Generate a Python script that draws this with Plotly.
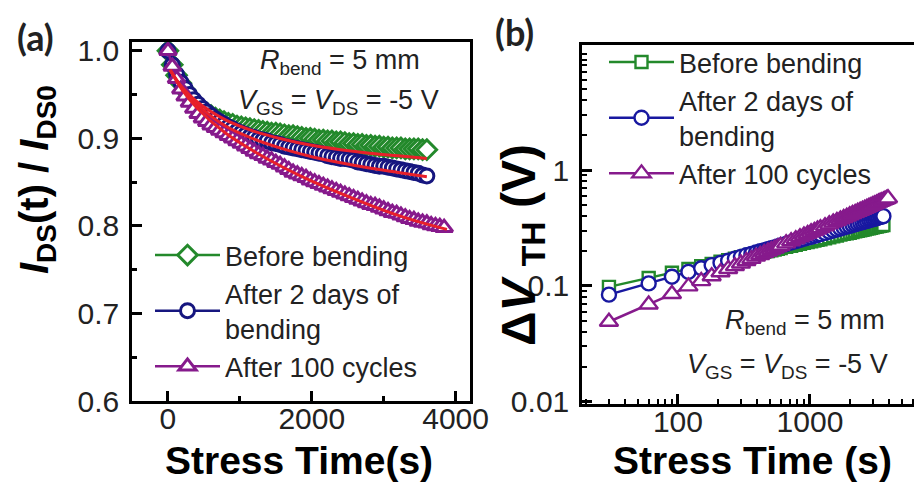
import plotly.graph_objects as go

# ---------------- data: panel (a) ----------------
T_A = [0, 60, 120, 180, 240, 300, 360, 420, 480, 540,
       600, 660, 720, 780, 840, 900, 960, 1020, 1080, 1140,
       1200, 1260, 1320, 1380, 1440, 1500, 1560, 1620, 1680, 1740,
       1800, 1860, 1920, 1980, 2040, 2100, 2160, 2220, 2280, 2340,
       2400, 2460, 2520, 2580, 2640, 2700, 2760, 2820, 2880, 2940,
       3000, 3060, 3120, 3180, 3240, 3300, 3360, 3420, 3480, 3540,
       3600]
T_A_P = T_A + [3660, 3720, 3780, 3840]

A_BEFORE = [1.000, 0.984, 0.972, 0.963, 0.955, 0.948, 0.942, 0.937, 0.932, 0.929,
            0.926, 0.923, 0.921, 0.919, 0.917, 0.916, 0.914, 0.913, 0.912, 0.911,
            0.910, 0.909, 0.908, 0.907, 0.906, 0.906, 0.905, 0.904, 0.903, 0.903,
            0.902, 0.901, 0.900, 0.900, 0.899, 0.898, 0.898, 0.897, 0.897, 0.896,
            0.896, 0.895, 0.894, 0.894, 0.893, 0.893, 0.892, 0.892, 0.891, 0.891,
            0.890, 0.890, 0.889, 0.889, 0.889, 0.888, 0.888, 0.888, 0.888, 0.887,
            0.887]
A_2DAYS = [1.000, 0.984, 0.973, 0.964, 0.957, 0.950, 0.944, 0.939, 0.934, 0.930,
           0.926, 0.922, 0.919, 0.916, 0.913, 0.911, 0.908, 0.906, 0.904, 0.902,
           0.901, 0.899, 0.898, 0.897, 0.895, 0.894, 0.893, 0.891, 0.890, 0.889,
           0.888, 0.887, 0.886, 0.885, 0.884, 0.883, 0.882, 0.880, 0.879, 0.878,
           0.877, 0.877, 0.876, 0.875, 0.873, 0.872, 0.871, 0.870, 0.869, 0.868,
           0.868, 0.867, 0.866, 0.865, 0.864, 0.863, 0.862, 0.861, 0.860, 0.858,
           0.857]
A_100CYC = [1.000, 0.982, 0.968, 0.956, 0.948, 0.941, 0.934, 0.928, 0.923, 0.919,
            0.915, 0.912, 0.909, 0.906, 0.903, 0.900, 0.897, 0.894, 0.891, 0.888,
            0.885, 0.882, 0.880, 0.877, 0.875, 0.872, 0.870, 0.867, 0.864, 0.861,
            0.859, 0.857, 0.855, 0.852, 0.850, 0.848, 0.846, 0.844, 0.842, 0.840,
            0.838, 0.836, 0.834, 0.832, 0.830, 0.828, 0.826, 0.824, 0.823, 0.821,
            0.819, 0.817, 0.815, 0.814, 0.812, 0.810, 0.808, 0.807, 0.805, 0.804,
            0.803, 0.801, 0.800, 0.799, 0.798]

T_FIT = [30, 200, 400, 800, 1200, 1600, 2000, 2400, 2800, 3200, 3600]
T_FIT_P = T_FIT + [3880]
FIT_BEFORE = [0.978, 0.958, 0.942, 0.921, 0.908, 0.899, 0.892, 0.887, 0.883, 0.880, 0.877]
FIT_2DAYS = [0.978, 0.957, 0.939, 0.914, 0.899, 0.888, 0.879, 0.872, 0.866, 0.861, 0.856]
FIT_100CYC = [0.978, 0.955, 0.935, 0.906, 0.885, 0.867, 0.851, 0.837, 0.824, 0.812, 0.802, 0.796]

# ---------------- data: panel (b) ----------------
T_B = [30, 60, 90, 120, 150, 180, 210, 240, 270, 300,
       330, 360, 390, 420, 450, 480, 510, 540, 570, 600,
       660, 720, 780, 840, 900, 960, 1020, 1080, 1140, 1200,
       1300, 1400, 1500, 1600, 1700, 1800, 1900, 2000, 2100, 2200,
       2300, 2400, 2500, 2600, 2700, 2800, 2900, 3000, 3100, 3200,
       3300, 3400, 3500, 3600]
T_B_P = T_B + [3700, 3800, 3900]

B_BEFORE = [0.098, 0.117, 0.130, 0.140, 0.148, 0.155, 0.162, 0.167, 0.172, 0.177,
            0.181, 0.186, 0.189, 0.193, 0.197, 0.200, 0.203, 0.206, 0.209, 0.212,
            0.217, 0.222, 0.226, 0.231, 0.235, 0.239, 0.243, 0.246, 0.250, 0.253,
            0.258, 0.263, 0.268, 0.272, 0.277, 0.281, 0.285, 0.288, 0.292, 0.296,
            0.299, 0.302, 0.305, 0.308, 0.312, 0.314, 0.317, 0.320, 0.323, 0.325,
            0.328, 0.330, 0.333, 0.335]
B_2DAYS = [0.084, 0.105, 0.120, 0.132, 0.142, 0.151, 0.158, 0.165, 0.172, 0.178,
           0.184, 0.189, 0.194, 0.199, 0.203, 0.207, 0.212, 0.215, 0.219, 0.223,
           0.230, 0.237, 0.243, 0.249, 0.255, 0.260, 0.265, 0.270, 0.275, 0.280,
           0.287, 0.294, 0.301, 0.307, 0.313, 0.319, 0.325, 0.330, 0.336, 0.341,
           0.346, 0.351, 0.355, 0.360, 0.364, 0.369, 0.373, 0.377, 0.381, 0.385,
           0.389, 0.393, 0.396, 0.400]
B_100CYC = [0.049, 0.069, 0.085, 0.099, 0.110, 0.121, 0.131, 0.140, 0.148, 0.156,
            0.164, 0.171, 0.179, 0.185, 0.192, 0.198, 0.204, 0.210, 0.216, 0.222,
            0.233, 0.243, 0.253, 0.263, 0.272, 0.281, 0.290, 0.298, 0.307, 0.315,
            0.327, 0.340, 0.352, 0.363, 0.375, 0.386, 0.396, 0.407, 0.417, 0.427,
            0.436, 0.446, 0.455, 0.464, 0.473, 0.482, 0.491, 0.499, 0.507, 0.516,
            0.524, 0.532, 0.539, 0.547, 0.555, 0.562, 0.570]

SERIES_NAMES = ["Before bending", "After 2 days of<br>bending", "After 100 cycles"]

A_XTICKS = [0, 2000, 4000]
A_XTICKTEXT = ["0", "2000", "4000"]
A_YTICKS = [0.6, 0.7, 0.8, 0.9, 1.0]
A_YTICKTEXT = ["0.6", "0.7", "0.8", "0.9", "1.0"]
B_XTICKS = [100, 1000]
B_XTICKTEXT = ["100", "1000"]
B_YTICKS = [0.01, 0.1, 1]
B_YTICKTEXT = ["0.01", "0.1", "1"]

GREEN = "#23892B"
NAVY = "#16167F"
BLUE_B = "#1818A0"
PURPLE = "#861A8C"
RED = "#E8202A"
W, H = 914, 485
FONT = "Liberation Sans, Arial, sans-serif"


def fx(p):
    return p / W


def fy(p):
    return 1 - p / H


fig = go.Figure()

# panel (a) scatter bands
a_specs = [(A_BEFORE, T_A, GREEN, "diamond", 15, SERIES_NAMES[0]),
           (A_2DAYS, T_A, NAVY, "circle", 14, SERIES_NAMES[1]),
           (A_100CYC, T_A_P, PURPLE, "triangle-up", 15, SERIES_NAMES[2])]
for vals, ts, col, sym, size, name in a_specs:
    fig.add_trace(go.Scatter(
        x=ts, y=vals, mode="lines+markers", name=name,
        line=dict(color=col, width=2.5),
        marker=dict(symbol=sym, size=size, color="white",
                    line=dict(color=col, width=3)),
        xaxis="x", yaxis="y", legend="legend"))

for ts, vals in [(T_FIT, FIT_BEFORE), (T_FIT, FIT_2DAYS), (T_FIT_P, FIT_100CYC)]:
    fig.add_trace(go.Scatter(
        x=ts, y=vals, mode="lines", line=dict(color=RED, width=3, shape="spline"),
        showlegend=False, hoverinfo="skip", xaxis="x", yaxis="y"))

# panel (b)
b_specs = [(B_BEFORE, T_B, GREEN, "square", 12, SERIES_NAMES[0]),
           (B_2DAYS, T_B, BLUE_B, "circle", 14, SERIES_NAMES[1]),
           (B_100CYC, T_B_P, PURPLE, "triangle-up", 16, SERIES_NAMES[2])]
for vals, ts, col, sym, size, name in b_specs:
    fig.add_trace(go.Scatter(
        x=ts, y=vals, mode="lines+markers", name=name,
        line=dict(color=col, width=2.5),
        marker=dict(symbol=sym, size=size, color="white",
                    line=dict(color=col, width=2.4)),
        xaxis="x2", yaxis="y2", legend="legend2"))

axis_common = dict(showline=True, linecolor="black", linewidth=2.5,
                   ticks="inside", tickcolor="black", tickwidth=2.5, ticklen=10,
                   showgrid=False, zeroline=False, automargin=False,
                   tickfont=dict(family=FONT, size=30, color="#222"))

log_minor_x = [m * d for d in (10, 100, 1000) for m in range(2, 10)]
log_minor_y = [m * d for d in (0.01, 0.1, 1) for m in range(2, 10)] + [10]

leg_font = dict(family=FONT, size=27, color="#222")
fig.update_layout(
    template="none",
    width=W, height=H, margin=dict(l=0, r=0, t=0, b=0, autoexpand=False),
    paper_bgcolor="white", plot_bgcolor="white",
    xaxis=dict(domain=[fx(132), fx(470)], range=[-500, 4200], anchor="y",
               tickmode="array", tickvals=A_XTICKS, ticktext=A_XTICKTEXT,
               mirror=True, ticklabelstandoff=-11,
               minor=dict(tickmode="array", tickvals=[1000, 3000], ticks="inside",
                          ticklen=5, tickwidth=2.5, tickcolor="black"),
               **axis_common),
    yaxis=dict(domain=[fy(401), fy(42)], range=[0.6, 1.01], anchor="x",
               tickmode="array", tickvals=A_YTICKS, ticktext=A_YTICKTEXT,
               mirror=True, ticklabelstandoff=4,
               minor=dict(tickmode="array", tickvals=[0.65, 0.75, 0.85, 0.95],
                          ticks="inside", ticklen=5, tickwidth=2.5, tickcolor="black"),
               **axis_common),
    xaxis2=dict(domain=[fx(582), 1.0], type="log", range=[1.273, 3.788], anchor="y2",
                tickmode="array", tickvals=B_XTICKS, ticktext=B_XTICKTEXT,
                mirror=True, ticklabelstandoff=-11,
                minor=dict(tickmode="array", tickvals=log_minor_x, ticks="inside",
                           ticklen=5, tickwidth=2, tickcolor="black"),
                **axis_common),
    yaxis2=dict(domain=[fy(404), fy(45)], type="log", range=[-2.02, 1.08], anchor="x2",
                tickmode="array", tickvals=B_YTICKS, ticktext=B_YTICKTEXT,
                ticklabelstandoff=4,
                minor=dict(tickmode="array", tickvals=log_minor_y, ticks="inside",
                           ticklen=5, tickwidth=2, tickcolor="black"),
                **axis_common),
    legend=dict(x=fx(150), y=fy(231), xanchor="left", yanchor="top",
                bgcolor="rgba(0,0,0,0)", tracegroupgap=0, itemwidth=65,
                font=leg_font),
    legend2=dict(x=fx(604), y=fy(38), xanchor="left", yanchor="top",
                 bgcolor="rgba(0,0,0,0)", tracegroupgap=0, itemwidth=65,
                 font=leg_font),
)

ann = []
txt_font = dict(family=FONT, size=27, color="#222")
ann.append(dict(x=fx(340), y=fy(62), text="<i>R</i><sub>bend</sub> = 5 mm", font=txt_font))
ann.append(dict(x=fx(338), y=fy(102), text="<i>V</i><sub>GS</sub> = <i>V</i><sub>DS</sub> = -5 V", font=txt_font))
ann.append(dict(x=fx(805), y=fy(322), text="<i>R</i><sub>bend</sub> = 5 mm", font=txt_font))
ann.append(dict(x=fx(787), y=fy(366), text="<i>V</i><sub>GS</sub> = <i>V</i><sub>DS</sub> = -5 V", font=txt_font))
title_font = dict(family=FONT, size=39, color="black")
ann.append(dict(x=fx(299), y=fy(460), text="<b>Stress Time(s)</b>", font=title_font))
ann.append(dict(x=fx(752), y=fy(460), text="<b>Stress Time (s)</b>", font=title_font))
ann.append(dict(x=fx(37), y=fy(180), textangle=-90,
                text="<b><i>I</i><sub>DS</sub>(t) / <i>I</i><sub>DS0</sub></b>",
                font=dict(family=FONT, size=40, color="black")))
ann.append(dict(x=fx(522), y=fy(245), textangle=-90,
                text="<b>Δ<i>V </i><sub>TH</sub> (V)</b>",
                font=dict(family=FONT, size=48, color="black")))
lab_font = dict(family="Lato, Open Sans, sans-serif", size=36, color="#222")
ann.append(dict(x=fx(35), y=fy(37), text="<b>(a)</b>", font=lab_font))
ann.append(dict(x=fx(514), y=fy(32), text="<b>(b)</b>", font=lab_font))
for a in ann:
    a.update(xref="paper", yref="paper", showarrow=False, xanchor="center", yanchor="middle")
fig.update_layout(annotations=ann)

fig.write_html("out.html", config={"displayModeBar": False},
               post_script="document.body.style.margin='0';document.body.style.overflow='hidden';")
